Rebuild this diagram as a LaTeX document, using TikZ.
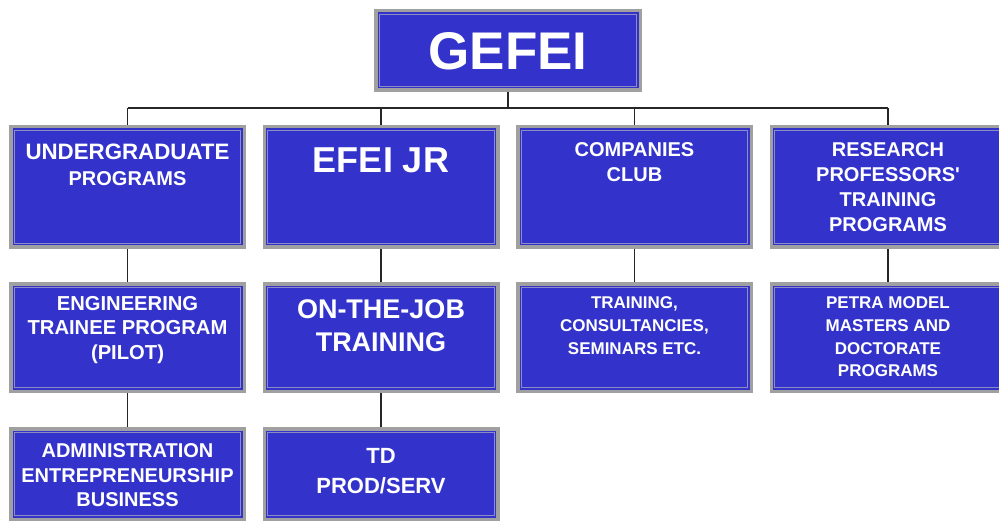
\documentclass[tikz,border=0pt]{standalone}
\usepackage{fontspec}
\setmainfont{Liberation Sans}[Ligatures=TeXOff]
\definecolor{boxblue}{RGB}{51,51,204}
\definecolor{boxgray}{RGB}{160,160,160}
\definecolor{innerline}{RGB}{140,140,190}
\begin{document}
\begin{tikzpicture}[x=1pt, y=1pt,
	orgbox/.style={draw=boxgray, line width=3.5pt, fill=boxblue, inner sep=0pt, minimum width=233.5pt,
		path picture={\draw[innerline, line width=0.9pt] ([shift={(3.5pt,-3.5pt)}]path picture bounding box.north west) rectangle ([shift={(-3.5pt,3.5pt)}]path picture bounding box.south east);}},
	orgtext/.style={text=white, align=center, inner sep=0pt},
	link/.style={draw=black!85, line width=1.1pt}]
	
	\useasboundingbox (0,0) rectangle (999,523);
	
	% Top
	\node[orgbox, minimum width=264.5pt, minimum height=79.5pt] (gefei) at (508, 472.5) {};
	\node[orgtext, font=\fontsize{53}{60}\selectfont\bfseries] (gefeitxt) at (508, 472) {GEFEI};
	\coordinate (bus) at (508, 415);
	
	% Row 1
	\node[orgbox, minimum height=120.5pt] (ug) at (127.5, 336) {};
	\node[orgbox, minimum height=120.5pt] (efei) at (381, 336) {};
	\node[orgbox, minimum height=120.5pt] (cc) at (634.5, 336) {};
	\node[orgbox, minimum height=120.5pt] (rp) at (888, 336) {};
	\node[orgtext, font=\fontsize{20}{26}\selectfont\bfseries] (ugtxt) at (127.5, 358) {{\fontsize{22.3}{26}\selectfont UNDERGRADUATE}\\PROGRAMS};
	\node[orgtext, font=\fontsize{36}{40}\selectfont\bfseries] (efeitxt) at (381, 363) {EFEI JR};
	\node[orgtext, font=\fontsize{20}{25}\selectfont\bfseries] (cctxt) at (634.5, 360.5) {COMPANIES\\CLUB};
	\node[orgtext, font=\fontsize{20}{25}\selectfont\bfseries] (rptxt) at (888, 335.5) {RESEARCH\\PROFESSORS'\\TRAINING\\PROGRAMS};
	
	% Row 2
	\node[orgbox, minimum height=107.5pt] (etp) at (127.5, 185.5) {};
	\node[orgbox, minimum height=107.5pt] (ojt) at (381, 185.5) {};
	\node[orgbox, minimum height=107.5pt] (tcs) at (634.5, 185.5) {};
	\node[orgbox, minimum height=107.5pt] (petra) at (888, 185.5) {};
	\node[orgtext, font=\fontsize{20.2}{24.5}\selectfont\bfseries] (etptxt) at (127.5, 193) {ENGINEERING\\TRAINEE PROGRAM\\(PILOT)};
	\node[orgtext, font=\fontsize{27}{33}\selectfont\bfseries] (ojttxt) at (381, 197.5) {ON-THE-JOB\\TRAINING};
	\node[orgtext, font=\fontsize{17}{23}\selectfont\bfseries] (tcstxt) at (634.5, 197) {TRAINING,\\CONSULTANCIES,\\SEMINARS ETC.};
	\node[orgtext, font=\fontsize{17}{22.7}\selectfont\bfseries] (petratxt) at (888, 186) {PETRA MODEL\\MASTERS AND\\DOCTORATE\\PROGRAMS};
	
	% Row 3
	\node[orgbox, minimum height=90.5pt] (adm) at (127.5, 49) {};
	\node[orgbox, minimum height=90.5pt] (td) at (381, 49) {};
	\node[orgtext, font=\fontsize{20}{24.5}\selectfont\bfseries] (admtxt) at (127.5, 47.5) {ADMINISTRATION\\ENTREPRENEURSHIP\\BUSINESS};
	\node[orgtext, font=\fontsize{22}{30}\selectfont\bfseries] (tdtxt) at (381, 52) {TD\\PROD/SERV};
	
	% Connectors
	\draw[link] (gefei.south) -- (bus);
	\draw[link] (ug.north |- bus) -- (rp.north |- bus);
	\foreach \n in {ug, efei, cc, rp}
		\draw[link] (\n.north |- bus) -- (\n.north);
	\draw[link] (ug.south) -- (etp.north);
	\draw[link] (efei.south) -- (ojt.north);
	\draw[link] (cc.south) -- (tcs.north);
	\draw[link] (rp.south) -- (petra.north);
	\draw[link] (etp.south) -- (adm.north);
	\draw[link] (ojt.south) -- (td.north);
		
\end{tikzpicture}
\end{document}
